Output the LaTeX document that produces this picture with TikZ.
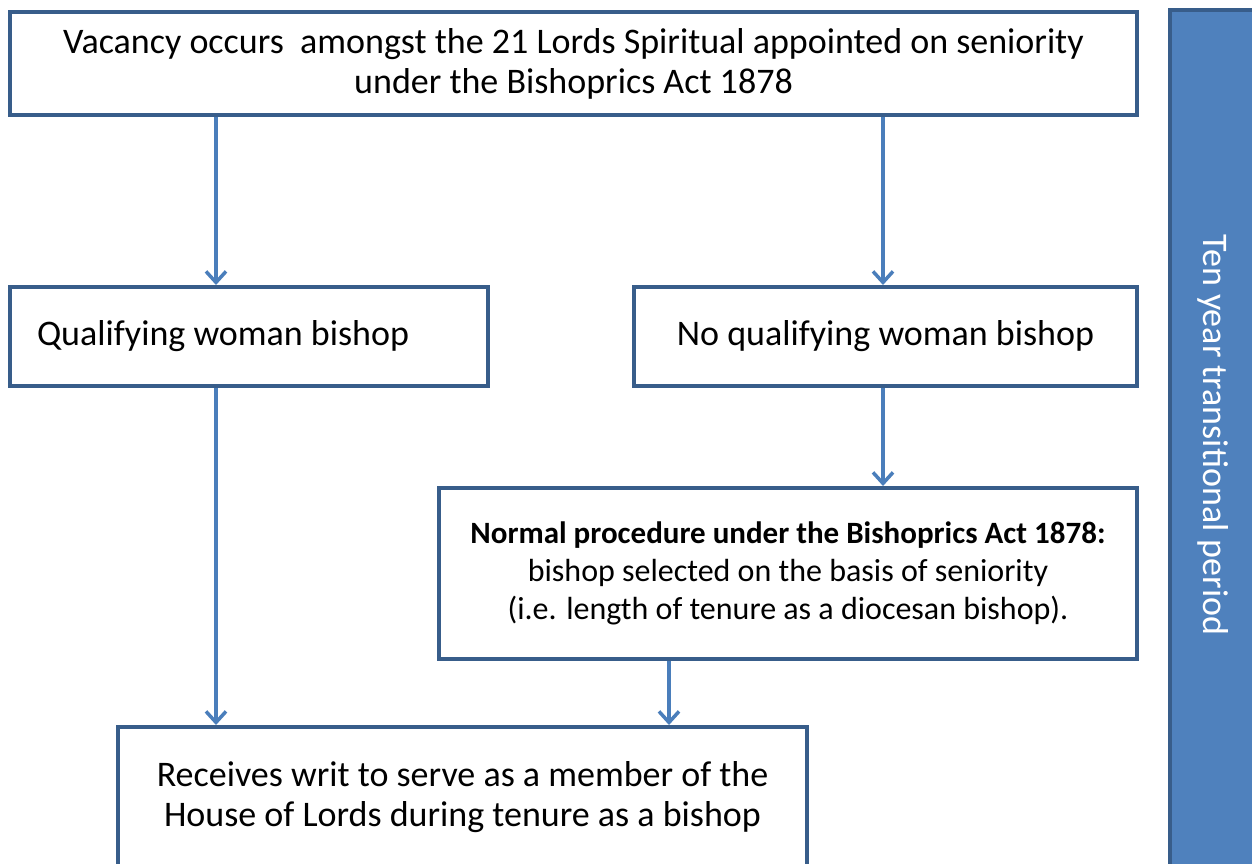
\documentclass[tikz,border=0pt]{standalone}
\usepackage{fontspec}
\setmainfont{Carlito}
\usetikzlibrary{arrows.meta}
\definecolor{edgeblue}{HTML}{385D8A}
\definecolor{arrowblue}{HTML}{4A7EBB}
\definecolor{bandblue}{HTML}{4F81BD}
\tikzset{
  box/.style={draw=edgeblue, line width=4pt, fill=white, inner sep=0pt, align=center},
  big/.style={font=\fontsize{36}{40}\selectfont},
  small/.style={font=\fontsize{32}{38}\selectfont},
  arr/.style={draw=arrowblue, line width=3.5pt, -{Straight Barb[length=11pt,width=20pt]}},
}
\begin{document}
\begin{tikzpicture}[x=1pt, y=-1pt]
\clip (0,0) rectangle (1252,863);
\fill[white] (0,0) rectangle (1252,863);
% Band
\draw[draw=edgeblue, fill=bandblue, line width=4pt] (1170,10) rectangle (1290,900);
\node[rotate=-90, text=white, big] (period) at (1213,435) {Ten year transitional period};
% Boxes
\node[box, big, minimum width=1127pt, minimum height=103pt] (vacancy) at (573.5,63.5)
  {Vacancy occurs~ amongst the 21 Lords Spiritual appointed on seniority\\under the Bishoprics Act 1878};
\node[box, big, minimum height=99pt, text width=424pt, inner xsep=27pt, align=flush left] (qual) at (249,336.5)
  {Qualifying woman bishop};
\node[box, big, minimum width=503pt, minimum height=99pt] (noqual) at (885.5,336.5)
  {No qualifying woman bishop};
\node[box, small, minimum width=698pt, minimum height=171pt] (normal) at (788,573.5)
  {{\fontsize{31}{38}\selectfont\textbf{Normal procedure under the Bishoprics Act 1878:}}\\bishop selected on the basis of seniority\\(i.e. length of tenure as a diocesan bishop).};
\node[box, big, minimum width=689pt, minimum height=141pt] (writ) at (462.5,797.5)
  {Receives writ to serve as a member of the\\House of Lords during tenure as a bishop};
% Arrows
\coordinate (l) at (216,0);
\coordinate (r) at (883,0);
\coordinate (m) at (669,0);
\draw[arr] (vacancy.south -| l) -- (qual.north -| l);
\draw[arr] (vacancy.south -| r) -- (noqual.north -| r);
\draw[arr] (noqual.south -| r) -- (normal.north -| r);
\draw[arr] (qual.south -| l) -- (writ.north -| l);
\draw[arr] (normal.south -| m) -- (writ.north -| m);
\end{tikzpicture}
\end{document}
